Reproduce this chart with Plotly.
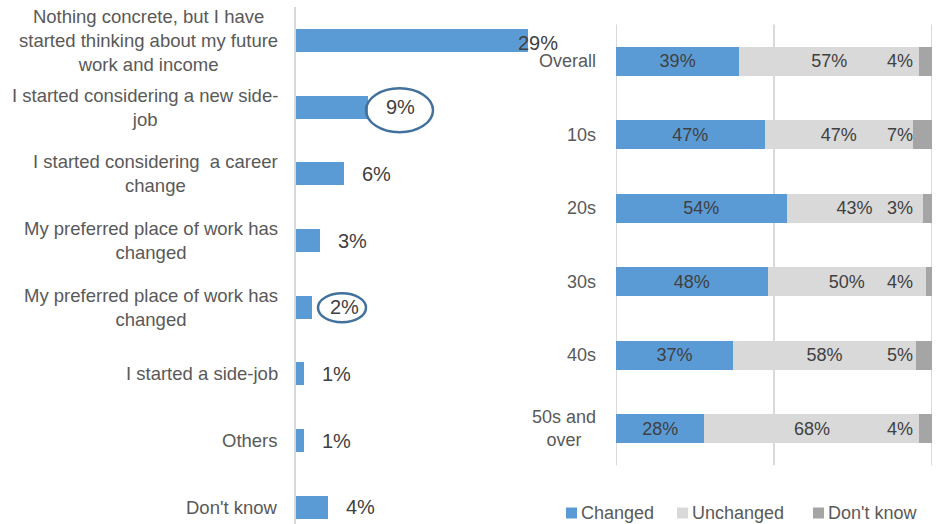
import plotly.graph_objects as go

# Left panel: what changed in thinking about work
reasons = [
    "Nothing concrete, but I have<br>started thinking about my future<br>work and income",
    "I started considering a new side-<br>job",
    "I started considering  a career<br>change",
    "My preferred place of work has<br>changed",
    "My preferred place of work has<br>changed",
    "I started a side-job",
    "Others",
    "Don't know",
]
reason_pct = [29, 9, 6, 3, 2, 1, 1, 4]
circled = [1, 4]  # items highlighted with an ellipse

# Right panel: change by age group
age_groups = ["Overall", "10s", "20s", "30s", "40s", "50s and<br>over"]
changed = [39, 47, 54, 48, 37, 28]
unchanged = [57, 47, 43, 50, 58, 68]
dont_know = [4, 7, 3, 4, 5, 4]
series_names = ["Changed", "Unchanged", "Don't know"]
grid_vals = [0, 50, 100]

BLUE = "#5B9BD5"
LIGHT = "#D9D9D9"
DARK = "#A5A5A5"
TICK_COL = "#595959"
VAL_COL = "#404040"
FONT = "Arial, Liberation Sans, sans-serif"
W, H = 950, 524

# ellipse extents in pixels, relative to the end of the circled bar
ELLIPSE_BOX = {1: (-2, 65, -25, 19), 4: (6, 54, -15, 14)}


def px(x):
    return x / W


def py(y):
    return 1 - y / H


fig = go.Figure()

ypos = list(range(len(reasons)))
fig.add_trace(go.Bar(
    x=reason_pct, y=ypos, orientation="h", width=0.345,
    marker=dict(color=BLUE, line=dict(width=0)),
    xaxis="x", yaxis="y", showlegend=False, hoverinfo="skip",
))

seg_colors = [BLUE, LIGHT, DARK]
for name, vals, col in zip(series_names, [changed, unchanged, dont_know], seg_colors):
    show_text = name != "Don't know"
    fig.add_trace(go.Bar(
        x=vals, y=age_groups, orientation="h", width=0.395, name=name,
        marker=dict(color=col, line=dict(width=0)),
        text=[f"{v}%" for v in vals] if show_text else None,
        textposition="inside" if show_text else "none",
        insidetextanchor="middle", textangle=0,
        textfont=dict(size=18, color=VAL_COL, family=FONT),
        xaxis="x2", yaxis="y2", showlegend=False, hoverinfo="skip",
    ))

annotations = []
shapes = []

# vertical gridlines of the right panel (drawn beneath the bars)
for g in grid_vals:
    shapes.append(dict(
        type="line", xref="x2", yref="y2 domain", x0=g, x1=g, y0=0, y1=1,
        line=dict(color=LIGHT, width=2), layer="below",
    ))

# category labels, left panel
for i, lab in enumerate(reasons):
    annotations.append(dict(
        x=px(280), xref="paper", y=i, yref="y", text=lab, showarrow=False,
        xanchor="right", yanchor="middle", align="center",
        font=dict(size=18.5, color=TICK_COL, family=FONT),
    ))

# value labels, left panel
top = max(reason_pct)
for i, v in enumerate(reason_pct):
    annotations.append(dict(
        x=v, xref="x", y=i, yref="y", text=f"{v}%", showarrow=False,
        xanchor="left", yanchor="middle", xshift=-12 if v == top else 16,
        yshift=-2 if v == top else 0,
        font=dict(size=20, color=VAL_COL, family=FONT),
    ))

# ellipses around highlighted values
for i in circled:
    x0, x1, y0, y1 = ELLIPSE_BOX[i]
    shapes.append(dict(
        type="circle", xref="x", yref="y",
        xsizemode="pixel", ysizemode="pixel",
        xanchor=reason_pct[i], yanchor=i,
        x0=x0, x1=x1, y0=y0, y1=y1,
        line=dict(color="#41719C", width=2.5),
    ))

# category labels, right panel
for g in age_groups:
    annotations.append(dict(
        x=px(598), xref="paper", y=g, yref="y2", text=g, showarrow=False,
        xanchor="right", yanchor="middle", align="center",
        font=dict(size=18, color=TICK_COL, family=FONT),
    ))

# "Don't know" labels sit just left of the bar end
for g, v in zip(age_groups, dont_know):
    annotations.append(dict(
        x=100, xref="x2", y=g, yref="y2", text=f"{v}%", showarrow=False,
        xanchor="right", yanchor="middle", xshift=-17,
        font=dict(size=18, color=VAL_COL, family=FONT),
    ))

# legend
legend_x = [566, 677, 813]
for name, col, lx in zip(series_names, seg_colors, legend_x):
    shapes.append(dict(
        type="rect", xref="paper", yref="paper",
        x0=px(lx), x1=px(lx + 11), y0=py(518.5), y1=py(507.5),
        fillcolor=col, line=dict(width=0),
    ))
    annotations.append(dict(
        x=px(lx + 13), xref="paper", y=py(513), yref="paper", text=name,
        showarrow=False, xanchor="left", yanchor="middle",
        font=dict(size=18, color=TICK_COL, family=FONT),
    ))

fig.update_layout(
    width=W, height=H,
    margin=dict(l=0, r=0, t=0, b=0),
    paper_bgcolor="white", plot_bgcolor="white",
    barmode="stack", bargap=0.6,
    font=dict(family=FONT, color=TICK_COL),
    xaxis=dict(domain=[px(296), px(536)], range=[0, 30], visible=False,
               anchor="y", fixedrange=True),
    yaxis=dict(domain=[0, py(7.2)], range=[7.25, -0.5], showline=True,
               linecolor=LIGHT, linewidth=2, showticklabels=False,
               showgrid=False, zeroline=False, ticks="", anchor="x"),
    xaxis2=dict(domain=[px(616), px(932)], range=[0, 100],
                showgrid=False, showticklabels=False, zeroline=False,
                ticks="", anchor="y2"),
    yaxis2=dict(domain=[py(465.3), py(24.5)], range=[5.5, -0.5],
                type="category", showticklabels=False, showgrid=False,
                zeroline=False, ticks="", anchor="x2"),
    annotations=annotations,
    shapes=shapes,
)

fig.write_html("out.html")
